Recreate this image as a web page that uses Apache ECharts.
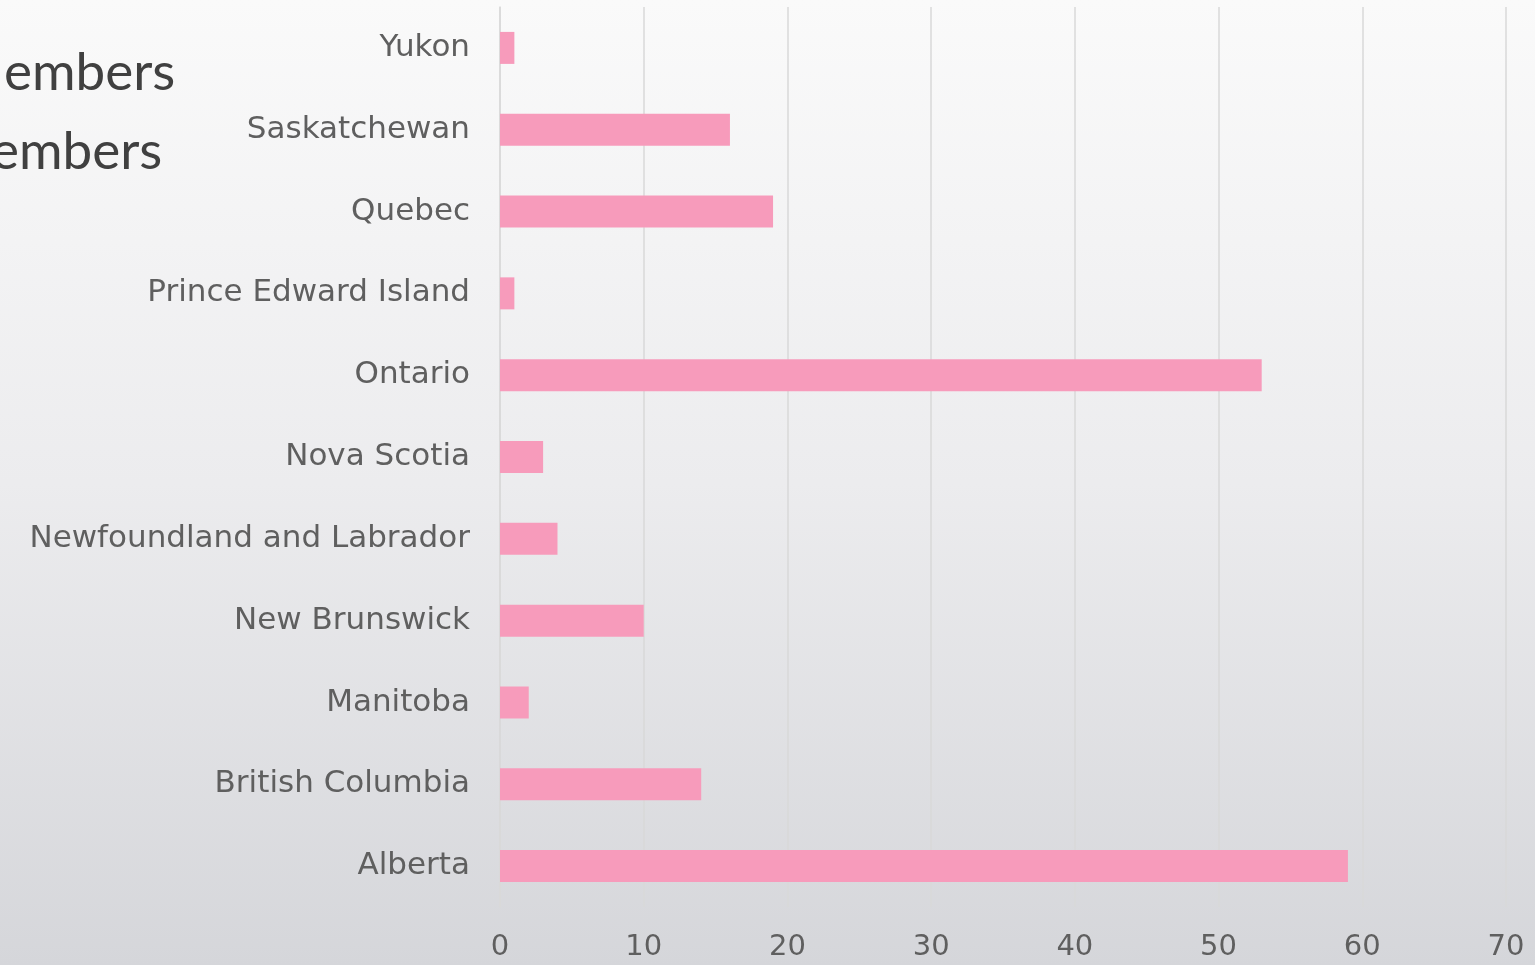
<!DOCTYPE html>
<html>
<head>
<meta charset="utf-8">
<script src="https://cdn.jsdelivr.net/npm/echarts@6/dist/echarts.min.js"></script>
<style>
  html, body { margin: 0; padding: 0; }
  #chart {
    width: 1535px;
    height: 965px;
    background: linear-gradient(to bottom, #fafafa 0%, #ececee 50%, #d5d6da 100%);
  }
</style>
</head>
<body>
<div id="chart"></div>
<script>
const provinces = [
  "Alberta",
  "British Columbia",
  "Manitoba",
  "New Brunswick",
  "Newfoundland and Labrador",
  "Nova Scotia",
  "Ontario",
  "Prince Edward Island",
  "Quebec",
  "Saskatchewan",
  "Yukon",
];
const members = [59, 14, 2, 10, 4, 3, 53, 1, 19, 16, 1];
const titleLines = ["embers", "embers"];

const FONT = "'DejaVu Sans', sans-serif";
const TITLE_FONT = "Lato, sans-serif";
const chart = echarts.init(document.getElementById("chart"));

chart.setOption({
  backgroundColor: "transparent",
  animation: false,
  textStyle: { fontFamily: FONT },
  graphic: [
    {
      type: "text",
      left: 4,
      top: 46,
      style: { text: titleLines[0], font: "53px " + TITLE_FONT, fill: "#404040" },
    },
    {
      type: "text",
      left: -9,
      top: 125,
      style: { text: titleLines[1], font: "53px " + TITLE_FONT, fill: "#404040" },
    },
  ],
  grid: { left: 500, right: 29, top: 7, bottom: 58, containLabel: false },
  xAxis: {
    type: "value",
    min: 0,
    max: 70,
    interval: 10,
    axisLine: { show: false },
    axisTick: { show: false },
    axisLabel: { color: "#5f5f5f", fontSize: 29, margin: 26 },
    splitLine: { lineStyle: { color: "#d9d9d9", width: 1.5 } },
  },
  yAxis: {
    type: "category",
    data: provinces,
    axisLine: { show: true, lineStyle: { color: "#d9d9d9", width: 1.5 } },
    axisTick: { show: false },
    axisLabel: { color: "#5f5f5f", fontSize: 31, margin: 30 },
  },
  series: [
    {
      type: "bar",
      data: members,
      barWidth: 32,
      itemStyle: { color: "#f79bbb" },
    },
  ],
});
</script>
</body>
</html>
